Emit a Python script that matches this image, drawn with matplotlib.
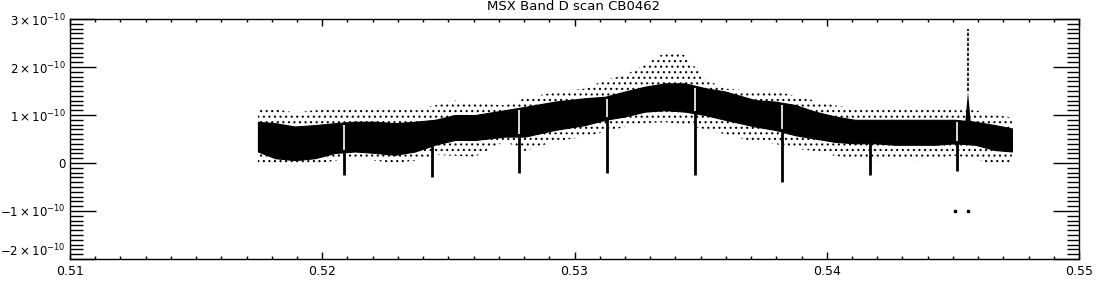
import numpy as np
import matplotlib
matplotlib.use('Agg')
import matplotlib.pyplot as plt

# band envelope (y in units of 1e-10)
band_x = [0.51745, 0.51813, 0.51892, 0.51971, 0.52051, 0.52130, 0.52209, 0.52288,
          0.52368, 0.52447, 0.52526, 0.52606, 0.52724, 0.52804, 0.52923, 0.53042,
          0.53121, 0.53200, 0.53279, 0.53359, 0.53438, 0.53517, 0.53597, 0.53716,
          0.53795, 0.53874, 0.53953, 0.54033, 0.54112, 0.54191, 0.54271, 0.54350,
          0.54429, 0.54508, 0.54588, 0.54667, 0.54734]
core_hi = [0.86, 0.83, 0.76, 0.79, 0.83, 0.86, 0.86, 0.83,
           0.86, 0.90, 1.00, 1.00, 1.10, 1.17, 1.28, 1.35,
           1.38, 1.49, 1.59, 1.66, 1.66, 1.56, 1.49, 1.31,
           1.28, 1.21, 1.07, 0.97, 0.90, 0.90, 0.90, 0.90,
           0.90, 0.90, 0.86, 0.79, 0.72]
core_lo = [0.24, 0.10, 0.06, 0.10, 0.21, 0.24, 0.21, 0.17,
           0.24, 0.38, 0.48, 0.48, 0.55, 0.55, 0.69, 0.79,
           0.90, 0.97, 1.07, 1.10, 1.07, 1.00, 0.90, 0.76,
           0.69, 0.58, 0.51, 0.44, 0.41, 0.41, 0.38, 0.38,
           0.38, 0.41, 0.38, 0.27, 0.24]
fringe_hi = [1.10, 1.12, 1.05, 1.10, 1.12, 1.15, 1.12, 1.10,
             1.12, 1.20, 1.30, 1.25, 1.20, 1.35, 1.48, 1.55,
             1.73, 1.83, 2.05, 2.30, 2.25, 1.75, 1.55, 1.50,
             1.50, 1.40, 1.30, 1.20, 1.15, 1.15, 1.12, 1.10,
             1.12, 1.10, 1.10, 1.00, 0.95]
fringe_lo = [0.00, -0.04, -0.05, -0.03, 0.05, 0.10, 0.05, 0.00,
             0.05, 0.17, 0.15, 0.13, 0.45, 0.25, 0.45, 0.55,
             0.65, 0.75, 0.83, 0.85, 0.80, 0.70, 0.60, 0.44,
             0.40, 0.30, 0.25, 0.15, 0.08, 0.06, 0.08, 0.06,
             0.10, 0.15, 0.10, -0.05, 0.00]

# negative dips
dip_x = [0.52086, 0.52435, 0.52780, 0.53129, 0.53478, 0.53822, 0.54171, 0.54516]
dip_bottom = [-0.25, -0.30, -0.20, -0.20, -0.25, -0.40, -0.25, -0.17]
dip_gap = [True, False, True, True, True, True, False, True]

# spike
spike_x = 0.54558
spike_dense = 1.5
spike_top = 2.8
stray_x = [0.54510, 0.54561]
stray_y = [-1.0, -1.0]

scale = 1e-10

plt.rcParams['font.family'] = ['DejaVu Sans']
plt.rcParams['mathtext.default'] = 'regular'
plt.rcParams['hatch.linewidth'] = 0.8

fig = plt.figure(figsize=(11, 3), dpi=100)
ax = fig.add_axes([70/1100, 41/300, 1009/1100, 240/300])

bx = np.array(band_x)
ax.fill_between(bx, np.array(fringe_lo)*scale, np.array(fringe_hi)*scale,
                facecolor='none', edgecolor='black', hatch='...', linewidth=0)
ax.fill_between(bx, np.array(core_lo)*scale, np.array(core_hi)*scale,
                color='black', linewidth=0.8)

for xd, yb, g in zip(dip_x, dip_bottom, dip_gap):
    lo = np.interp(xd, bx, core_lo)
    hi = np.interp(xd, bx, core_hi)
    if g:
        ax.vlines(xd, (lo + 0.05)*scale, (hi - 0.05)*scale, color='white', lw=1.2)
    ax.vlines(xd, yb*scale, lo*scale, color='black', lw=2)

ax.fill_between([spike_x - 0.00012, spike_x, spike_x + 0.00012],
                [0.8*scale, spike_dense*scale, 0.8*scale], 0.5*scale,
                color='black', linewidth=0)
ax.vlines(spike_x, spike_dense*scale, spike_top*scale, color='black', lw=1.2,
          linestyles=(0, (2, 1)))
ax.plot(stray_x, np.array(stray_y)*scale, 's', color='black', ms=1.5)

ax.set_xlim(0.51, 0.55)
ax.set_ylim(-2e-10, 3e-10)
ax.set_xticks([0.51, 0.52, 0.53, 0.54, 0.55])
ax.set_xticklabels(['0.51', '0.52', '0.53', '0.54', '0.55'])
ax.set_xticks(np.arange(0.51, 0.5501, 0.001), minor=True)
yt = [-2, -1, 0, 1, 2, 3]
ax.set_yticks([v*scale for v in yt])
ax.set_yticklabels([r'$%d\times10^{-10}$' % v if v != 0 else '0' for v in yt])
ax.set_yticks(np.arange(-20, 31, 1)*1e-11, minor=True)

ax.tick_params(axis='both', which='both', direction='in', top=True, right=True,
               width=1, color='black')
ax.tick_params(axis='y', which='major', length=19, pad=3, labelsize=8.5)
ax.tick_params(axis='y', which='minor', length=9)
ax.tick_params(axis='x', which='major', length=5, pad=4, labelsize=9)
ax.tick_params(axis='x', which='minor', length=2.5)
for s in ax.spines.values():
    s.set_linewidth(1)
# lowest y label sits above the axis corner, as in the original
ax.get_yticklabels()[0].set_va('bottom')

fig.text(574/1100, 1 - 10/300, 'MSX Band D scan CB0462', fontsize=9.5,
         ha='center', va='baseline')

fig.savefig('out.png', dpi=100)
